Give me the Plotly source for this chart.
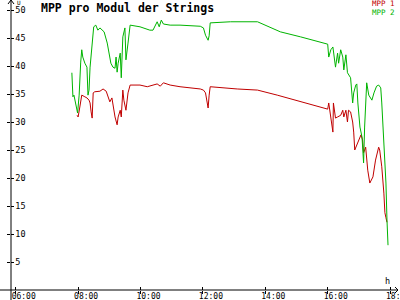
import plotly.graph_objects as go

# ---- data ----
mpp1_times = ["07:58", "08:00", "08:03", "08:05", "08:07", "08:13", "08:17", "08:21", "08:23", "08:25",
              "08:27", "08:29", "08:32", "08:42", "08:48", "08:54", "08:57", "09:01", "09:05", "09:07",
              "09:11", "09:15", "09:17", "09:21", "09:23", "09:26", "09:28", "09:32", "09:36", "09:40",
              "09:59", "10:13", "10:24", "10:32", "10:38", "10:44", "10:57", "11:16", "11:55", "12:01",
              "12:05", "12:08", "12:10", "12:12", "12:14", "13:06", "13:45", "14:23", "15:08", "16:00",
              "16:02", "16:06", "16:10", "16:11", "16:15", "16:19", "16:25", "16:29", "16:31", "16:35",
              "16:38", "16:40", "16:44", "16:48", "16:50", "16:52", "16:58", "17:04", "17:07", "17:09",
              "17:13", "17:17", "17:21", "17:27", "17:32", "17:38", "17:40", "17:44", "17:48", "17:50",
              "17:52", "17:54"]
mpp1_values = [31.2, 30.9, 32.5, 33.4, 34.8, 34.5, 34.3, 33.9, 33.4, 31.8,
               30.7, 35.2, 35.4, 35.5, 35.9, 35.5, 34.8, 33.6, 34.3, 33.0,
               30.9, 29.5, 30.9, 32.1, 30.9, 35.7, 33.9, 32.1, 35.2, 36.6,
               36.6, 36.3, 36.6, 36.8, 36.4, 37.0, 36.6, 36.3, 35.9, 35.7,
               35.2, 33.9, 32.5, 34.8, 36.3, 35.9, 35.7, 34.8, 33.6, 32.3,
               33.4, 30.4, 28.2, 33.4, 30.7, 30.9, 31.2, 32.1, 30.9, 32.1,
               30.0, 32.1, 31.8, 30.0, 28.2, 25.0, 26.3, 27.7, 26.8, 24.5,
               25.5, 21.4, 19.1, 20.2, 23.2, 25.5, 25.0, 22.0, 17.3, 13.8,
               12.9, 12.1]

mpp2_times = ["07:48", "07:49", "07:50", "07:52", "07:54", "07:56", "07:59", "08:02", "08:03", "08:05",
              "08:07", "08:09", "08:13", "08:17", "08:19", "08:21", "08:23", "08:27", "08:30", "08:34",
              "08:38", "08:42", "08:50", "08:56", "08:59", "09:03", "09:07", "09:11", "09:13", "09:15",
              "09:17", "09:21", "09:23", "09:26", "09:30", "09:32", "09:36", "09:40", "09:59", "10:18",
              "10:24", "10:32", "10:36", "10:40", "10:44", "10:57", "11:16", "11:55", "12:01", "12:05",
              "12:10", "12:12", "12:14", "12:53", "13:45", "14:29", "15:08", "16:00", "16:02", "16:06",
              "16:10", "16:11", "16:15", "16:19", "16:21", "16:25", "16:29", "16:31", "16:35", "16:38",
              "16:44", "16:48", "16:50", "16:54", "16:56", "16:58", "17:02", "17:06", "17:07", "17:09",
              "17:11", "17:13", "17:15", "17:19", "17:25", "17:29", "17:34", "17:38", "17:42", "17:44",
              "17:48", "17:52", "17:54", "17:56"]
mpp2_values = [38.8, 36.6, 34.5, 34.8, 33.9, 32.7, 31.6, 34.8, 37.5, 40.7,
               42.9, 41.6, 40.5, 39.8, 34.8, 35.7, 39.8, 44.6, 47.0, 47.3,
               46.4, 46.8, 46.1, 44.1, 42.3, 40.5, 39.8, 39.6, 41.6, 38.9,
               40.5, 42.3, 37.9, 45.2, 46.8, 41.1, 44.1, 47.3, 47.0, 46.4,
               46.4, 47.9, 47.0, 48.2, 47.5, 47.3, 47.3, 47.1, 46.8, 45.5,
               44.6, 45.4, 47.7, 47.9, 47.9, 46.1, 45.2, 43.9, 41.6, 42.9,
               43.4, 42.5, 39.8, 42.3, 40.5, 42.9, 41.6, 39.3, 42.0, 38.8,
               37.9, 33.4, 35.2, 36.6, 36.8, 33.4, 29.1, 27.3, 24.5, 22.7,
               29.1, 33.9, 37.0, 34.8, 33.9, 35.2, 36.4, 36.6, 36.1, 33.4,
               26.8, 19.1, 12.5, 8.0]

series_names = ["MPP 1", "MPP 2"]
series_colors = ["#c00000", "#00b400"]
x_tick_hours = [6, 8, 10, 12, 14, 16, 18]
x_tick_labels = ["06:00", "08:00", "10:00", "12:00", "14:00", "16:00", "18:00"]
y_tick_values = [5, 10, 15, 20, 25, 30, 35, 40, 45, 50]
title_text = "MPP pro Modul der Strings"


def to_hours(t):
    h, m = t.split(":")
    return int(h) + int(m) / 60.0


FONT = "DejaVu Sans Mono"
W, H = 400, 300
ML, MR, MT, MB = 11, 5, 2, 10
PW, PH = W - ML - MR, H - MT - MB
X_RANGE = [5.849, 18.157]
Y_RANGE = [0, 51.43]


def px(xpix):
    return (xpix - ML) / PW


def py(ypix):
    return (H - MB - ypix) / PH


fig = go.Figure()
fig.add_trace(go.Scatter(x=[to_hours(t) for t in mpp1_times], y=mpp1_values, mode="lines",
                         line=dict(color=series_colors[0], width=1), name=series_names[0],
                         showlegend=False, hoverinfo="skip"))
fig.add_trace(go.Scatter(x=[to_hours(t) for t in mpp2_times], y=mpp2_values, mode="lines",
                         line=dict(color=series_colors[1], width=1), name=series_names[1],
                         showlegend=False, hoverinfo="skip"))
# overlay axes (for tick marks on the other side of the axis line)
fig.add_trace(go.Scatter(x=[None], y=[None], xaxis="x2", yaxis="y2", showlegend=False,
                         hoverinfo="skip"))

common = dict(showgrid=False, zeroline=False, showline=False, tickcolor="black",
              tickwidth=1, fixedrange=True, automargin=False)
fig.update_layout(
    width=W, height=H,
    margin=dict(l=ML, r=MR, t=MT, b=MB, pad=0, autoexpand=False),
    paper_bgcolor="white", plot_bgcolor="white",
    font=dict(family=FONT, size=9, color="black"),
    xaxis=dict(range=X_RANGE, tickvals=x_tick_hours, ticktext=x_tick_labels,
               ticks="outside", ticklen=3, tickfont=dict(family=FONT, size=8, color="black"),
               ticklabelshift=8, ticklabelstandoff=-5, ticklabeloverflow="allow", **common),
    yaxis=dict(range=Y_RANGE, tickvals=y_tick_values, ticks="inside", ticklen=3,
               ticklabelposition="inside", ticklabeloverflow="allow",
               tickfont=dict(family=FONT, size=8.5, color="black"), **common),
    xaxis2=dict(range=X_RANGE, overlaying="x", anchor="y2", side="bottom",
                tickvals=x_tick_hours, ticks="inside", ticklen=3, showticklabels=False, **common),
    yaxis2=dict(range=Y_RANGE, overlaying="y", anchor="x2", side="left",
                tickvals=y_tick_values, ticks="outside", ticklen=3, showticklabels=False, **common),
)

line_style = dict(color="black", width=1)
fig.add_shape(type="line", xref="paper", yref="paper", x0=0, x1=0,
              y0=py(300), y1=py(0), line=line_style)
fig.add_shape(type="line", xref="paper", yref="paper", x0=px(0), x1=px(398),
              y0=0, y1=0, line=line_style)
# arrow heads
fig.add_shape(type="path", xref="paper", yref="paper", xsizemode="pixel", ysizemode="pixel",
              xanchor=0, yanchor=py(0), path="M -3,-4 L 0,0 L 3,-4", line=line_style)
fig.add_shape(type="path", xref="paper", yref="paper", xsizemode="pixel", ysizemode="pixel",
              xanchor=px(398), yanchor=0, path="M -3,3 L 0,0 L -3,-3", line=line_style)

fig.add_annotation(text="<b>" + title_text + "</b>", xref="paper", yref="paper",
                   x=px(39), y=py(8), xanchor="left", yanchor="middle", showarrow=False,
                   font=dict(family=FONT, size=11.5, color="black"))
fig.add_annotation(text=series_names[0], xref="paper", yref="paper", x=px(396), y=py(4),
                   xanchor="right", yanchor="middle", showarrow=False, borderpad=0,
                   font=dict(family=FONT, size=7.5, color=series_colors[0]))
fig.add_annotation(text=series_names[1], xref="paper", yref="paper", x=px(396), y=py(12.5),
                   xanchor="right", yanchor="middle", showarrow=False, borderpad=0,
                   font=dict(family=FONT, size=7.5, color=series_colors[1]))
fig.add_annotation(text="U", xref="paper", yref="paper", x=px(19), y=py(2),
                   xanchor="center", yanchor="middle", showarrow=False, borderpad=0,
                   font=dict(family=FONT, size=6, color="black"))
fig.add_annotation(text="h", xref="paper", yref="paper", x=px(387), y=py(280.5),
                   xanchor="center", yanchor="middle", showarrow=False,
                   font=dict(family=FONT, size=8.5, color="black"))

fig.write_html("out.html")
